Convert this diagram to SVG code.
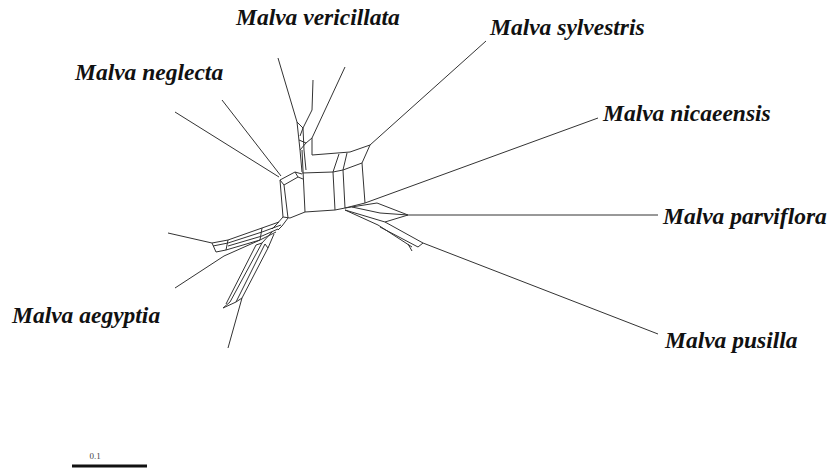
<svg xmlns="http://www.w3.org/2000/svg" width="831" height="474" viewBox="0 0 831 474">
<style>
.lbl{font-family:"Liberation Serif","Times New Roman",serif;font-weight:bold;font-style:italic;font-size:23.5px;fill:#111}
.e{fill:none;stroke:#333;stroke-width:1;stroke-linejoin:round}
</style>
<rect width="831" height="474" fill="#fff"/>
<g id="network" class="e">
<!-- leaf edges -->
<line x1="486" y1="41" x2="370" y2="145"/>
<line x1="598" y1="118" x2="365" y2="203"/>
<line x1="658" y1="215" x2="408" y2="215"/>
<line x1="658" y1="334" x2="423" y2="243"/>
<line x1="175" y1="112" x2="279" y2="177"/>
<line x1="222" y1="100" x2="281" y2="176"/>
<line x1="278" y1="58" x2="297" y2="122"/>
<line x1="313" y1="80" x2="312" y2="110"/>
<line x1="345" y1="67" x2="312" y2="138"/>
<line x1="168" y1="233" x2="212" y2="243"/>
<line x1="175" y1="288" x2="224" y2="256"/>
<line x1="228" y1="348" x2="242" y2="298"/>
<!-- vericillata splits -->
<polyline points="297,122 300,150 302,172"/>
<polyline points="312,110 303,128 304,150"/>
<polyline points="297,122 303,128"/>
<polyline points="312,138 312,155"/>
<polyline points="300,150 306,143 312,138"/>
<polyline points="303,128 300,136"/>
<polyline points="299,140 306,143"/>
<polyline points="304,150 306,170"/>
<!-- central boxes -->
<polyline points="312,155 350,152 370,145 362,163"/>
<polyline points="302,173 333,172 343,170 362,163"/>
<polyline points="339,154 333,172"/>
<polyline points="347,153 343,170"/>
<polyline points="302,150 305,212"/>
<polyline points="333,172 335,210"/>
<polyline points="343,170 345,208"/>
<polyline points="362,163 365,203"/>
<polyline points="305,212 335,210 345,208 365,203"/>
<!-- left box -->
<polyline points="280,180 295,172 302,174"/>
<polyline points="284,185 298,177 303,179"/>
<polyline points="280,180 284,185"/>
<polyline points="295,172 298,177"/>
<polyline points="280,180 283,217"/>
<polyline points="284,185 288,218"/>
<polyline points="305,212 290,218 283,217"/>
<polyline points="288,218 282,226 278,230"/>
<polyline points="283,217 276,225 272,229"/>
<!-- aegyptia stack -->
<polyline points="279,222 262,228 228,240 212,243"/>
<polyline points="281,225 262,232 228,243"/>
<polyline points="278,229 262,236 228,246"/>
<polyline points="276,232 260,240 226,250"/>
<polyline points="212,243 216,252 226,250"/>
<polyline points="213,246 228,243"/>
<polyline points="228,240 226,250"/>
<polyline points="260,240 224,256"/>
<polyline points="262,228 260,240"/>
<!-- aegyptia lower doubles -->
<polyline points="262,243 230,302 223,308 236,302 242,298 268,248"/>
<polyline points="256,245 226,304"/>
<polyline points="265,244 236,302"/>
<polyline points="272,232 262,243 256,245"/>
<polyline points="274,234 268,248 265,244"/>
<!-- parviflora / pusilla splits -->
<polyline points="345,208 377,203 408,215 385,222 345,210"/>
<polyline points="352,207 380,213 408,215"/>
<polyline points="345,210 378,225 412,247"/>
<polyline points="385,222 423,243"/>
<polyline points="380,227 418,247 423,243"/>
<line x1="408" y1="244" x2="412" y2="251"/>
</g>
<g id="labels">
<text class="lbl" x="236" y="25">Malva vericillata</text>
<text class="lbl" x="490" y="35">Malva sylvestris</text>
<text class="lbl" x="75" y="80">Malva neglecta</text>
<text class="lbl" x="603" y="121">Malva nicaeensis</text>
<text class="lbl" x="663" y="224">Malva parviflora</text>
<text class="lbl" x="12" y="323">Malva aegyptia</text>
<text class="lbl" x="665" y="348">Malva pusilla</text>
</g>
<g id="scale">
<text x="95" y="459" text-anchor="middle" font-family="Liberation Serif, serif" font-size="9" fill="#444">0.1</text>
<line x1="72" y1="466" x2="147" y2="466" stroke="#111" stroke-width="3"/>
</g>
</svg>
